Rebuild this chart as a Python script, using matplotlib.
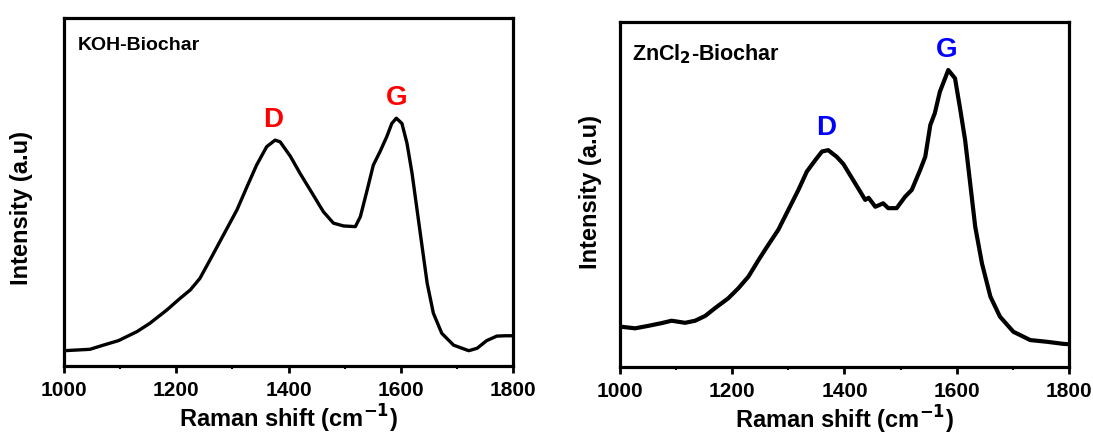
import numpy as np
import matplotlib.pyplot as plt

plt.rcParams['font.family'] = ['Liberation Sans', 'DejaVu Sans']
plt.rcParams['font.weight'] = 'bold'
plt.rcParams['mathtext.default'] = 'bf'

# KOH-Biochar spectrum
koh_x = [1000, 1046, 1070, 1097, 1130, 1153, 1183, 1207, 1225, 1242, 1260, 1284,
         1308, 1326, 1343, 1361, 1376, 1385, 1403, 1421, 1444, 1462, 1480, 1498,
         1519, 1528, 1540, 1551, 1563, 1575, 1584, 1592, 1602, 1611, 1620, 1629,
         1638, 1647, 1658, 1673, 1694, 1721, 1736, 1753, 1771, 1786, 1800]
koh_y = [4.4, 4.8, 6.0, 7.3, 9.9, 12.3, 16.1, 19.5, 21.9, 25.2, 30.5, 37.7,
         44.9, 51.6, 57.8, 63.1, 65.0, 64.5, 60.4, 55.3, 49.2, 44.4, 41.1, 40.3,
         40.1, 43.0, 50.6, 57.8, 61.7, 66.0, 69.8, 71.3, 69.8, 64.1, 55.5, 44.9,
         34.3, 23.8, 15.2, 9.4, 6.0, 4.4, 5.1, 7.3, 8.6, 8.7, 8.7]

# ZnCl2-Biochar spectrum
zn_x = [1000, 1027, 1050, 1074, 1092, 1116, 1134, 1152, 1169, 1193, 1211, 1229,
        1247, 1262, 1282, 1300, 1318, 1333, 1348, 1360, 1371, 1386, 1398, 1419,
        1437, 1443, 1455, 1469, 1478, 1493, 1508, 1520, 1535, 1544, 1553, 1561,
        1570, 1585, 1597, 1606, 1615, 1624, 1633, 1645, 1660, 1677, 1701, 1731,
        1761, 1790, 1800]
zn_y = [11.7, 11.2, 11.9, 12.7, 13.4, 12.8, 13.4, 14.8, 17.0, 19.9, 22.8, 26.2,
        31.0, 34.8, 39.7, 45.5, 51.3, 56.6, 59.9, 62.4, 62.8, 60.9, 58.8, 53.2,
        48.4, 49.0, 46.4, 47.4, 46.0, 46.0, 49.3, 51.3, 57.1, 60.9, 70.1, 73.5,
        79.7, 86.0, 83.6, 74.9, 65.7, 53.2, 40.6, 30.0, 20.4, 14.6, 10.2, 7.8,
        7.3, 6.7, 6.6]

titles = ['KOH-Biochar', 'ZnCl$_2$-Biochar']
peak_pos = [(1373, 1592), (1367, 1582)]
peak_lab_y = [(68.7, 75.1), (67.2, 89.7)]
peak_col = ['#ff0000', '#0000ff']

boxes = [[0.0586, 0.1644, 0.4108, 0.7934], [0.5672, 0.1621, 0.4108, 0.7884]]
line_w = [2.4, 3.0]
title_pos = [(0.031, 0.948, 14), (0.026, 0.94, 15.5)]
ylab_pos = [(-0.069, 0.456), (-0.040, 0.507)]

fig = plt.figure(figsize=(10.93, 4.38), dpi=100)
data = [(koh_x, koh_y), (zn_x, zn_y)]
for i in range(2):
    ax = fig.add_axes(boxes[i])
    ax.plot(data[i][0], data[i][1], color='black', lw=line_w[i], solid_joinstyle='round')
    ax.set_xlim(1000, 1800)
    ax.set_ylim(0, 100)
    ax.set_yticks([])
    ax.set_xticks([1000, 1200, 1400, 1600, 1800])
    ax.set_xticks([1100, 1300, 1500, 1700], minor=True)
    ax.tick_params(axis='x', which='major', length=5, width=2, labelsize=15, pad=6)
    ax.tick_params(axis='x', which='minor', length=2.5, width=1.5)
    for s in ax.spines.values():
        s.set_linewidth(2.3)
    ax.set_xlabel('Raman shift (cm$^{-1}$)', fontsize=17, fontweight='bold', labelpad=2)
    ax.set_ylabel('Intensity (a.u)', fontsize=17, fontweight='bold')
    ax.yaxis.set_label_coords(ylab_pos[i][0], ylab_pos[i][1])
    tx, ty, ts = title_pos[i]
    ax.text(tx, ty, titles[i], transform=ax.transAxes, fontsize=ts,
            fontweight='bold', va='top')
    ax.text(peak_pos[i][0], peak_lab_y[i][0], 'D', color=peak_col[i], fontsize=20,
            fontweight='bold', ha='center', va='baseline')
    ax.text(peak_pos[i][1], peak_lab_y[i][1], 'G', color=peak_col[i], fontsize=20,
            fontweight='bold', ha='center', va='baseline')

fig.savefig('out.png', dpi=100)
